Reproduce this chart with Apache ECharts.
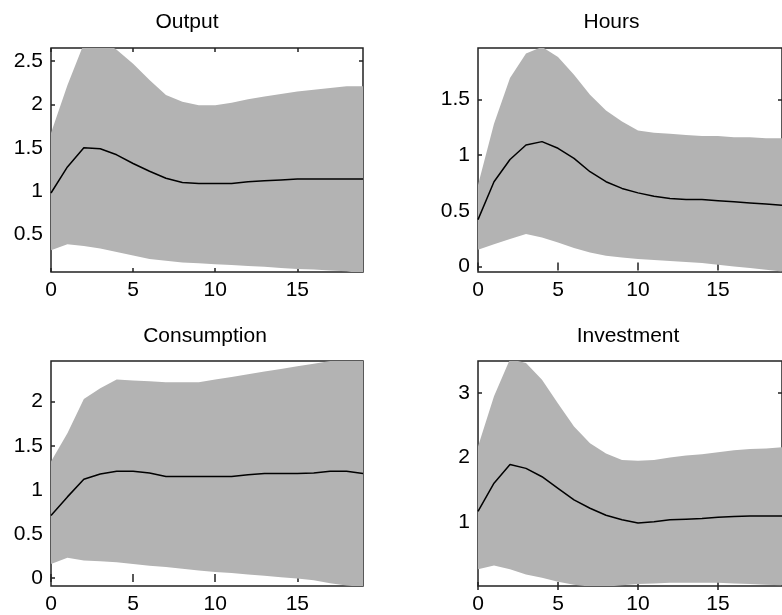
<!DOCTYPE html>
<html>
<head>
<meta charset="utf-8">
<script src="https://cdn.jsdelivr.net/npm/echarts@6/dist/echarts.min.js"></script>
<style>
html,body{margin:0;padding:0;background:#fff;}
#chart{width:782px;height:615px;}
</style>
</head>
<body>
<div id="chart"></div>
<script>
// ---- data ----
const horizons = ['0','1','2','3','4','5','6','7','8','9','10','11','12','13','14','15','16','17','18','19'];
const panelTitles = ['Output', 'Hours', 'Consumption', 'Investment'];

const outputMedian = [0.98,1.28,1.50,1.49,1.42,1.32,1.23,1.15,1.10,1.09,1.09,1.09,1.11,1.12,1.13,1.14,1.14,1.14,1.14,1.14];
const outputUpper  = [1.67,2.22,2.70,2.75,2.63,2.47,2.28,2.11,2.03,1.99,1.99,2.02,2.06,2.09,2.12,2.15,2.17,2.19,2.21,2.21];
const outputLower  = [0.32,0.39,0.37,0.34,0.30,0.26,0.22,0.20,0.18,0.17,0.16,0.15,0.14,0.13,0.115,0.105,0.098,0.088,0.078,0.05];

const hoursMedian = [0.42,0.76,0.96,1.09,1.12,1.06,0.97,0.85,0.76,0.70,0.66,0.63,0.61,0.60,0.60,0.59,0.58,0.57,0.56,0.55];
const hoursUpper  = [0.73,1.28,1.69,1.91,1.97,1.88,1.72,1.54,1.40,1.30,1.22,1.20,1.19,1.18,1.17,1.17,1.16,1.16,1.15,1.15];
const hoursLower  = [0.15,0.20,0.245,0.29,0.26,0.215,0.165,0.125,0.096,0.08,0.066,0.057,0.048,0.039,0.03,0.015,0.0,-0.015,-0.03,-0.045];

const consMedian = [0.71,0.92,1.12,1.18,1.21,1.21,1.19,1.15,1.15,1.15,1.15,1.15,1.17,1.185,1.185,1.185,1.19,1.21,1.21,1.185];
const consUpper  = [1.32,1.64,2.03,2.15,2.25,2.24,2.23,2.22,2.22,2.22,2.25,2.28,2.31,2.34,2.37,2.40,2.43,2.46,2.48,2.50];
const consLower  = [0.16,0.23,0.20,0.19,0.18,0.16,0.14,0.125,0.106,0.087,0.068,0.057,0.04,0.027,0.01,-0.004,-0.025,-0.06,-0.085,-0.10];

const invMedian = [1.16,1.60,1.89,1.83,1.70,1.52,1.34,1.21,1.10,1.03,0.98,1.00,1.03,1.04,1.05,1.07,1.08,1.09,1.09,1.09];
const invUpper  = [2.17,2.95,3.53,3.47,3.21,2.84,2.48,2.22,2.06,1.96,1.95,1.96,2.00,2.03,2.05,2.08,2.11,2.13,2.14,2.16];
const invLower  = [0.26,0.32,0.26,0.18,0.13,0.065,0.02,-0.01,-0.01,0.01,0.03,0.04,0.05,0.05,0.05,0.05,0.04,0.03,0.02,0.01];

const yRanges = [[0.07, 2.65], [-0.05, 1.96], [-0.09, 2.46], [0.0, 3.5]];
const yTickLabels = [[0.5,1,1.5,2,2.5], [0,0.5,1,1.5], [0,0.5,1,1.5,2], [1,2,3]];

const medians = [outputMedian, hoursMedian, consMedian, invMedian];
const uppers = [outputUpper, hoursUpper, consUpper, invUpper];
const lowers = [outputLower, hoursLower, consLower, invLower];

// ---- layout ----
const gridBoxes = [
  {left: 51, top: 48, width: 312, height: 224},
  {left: 478, top: 48, width: 310, height: 224},
  {left: 51, top: 361, width: 312, height: 225},
  {left: 478, top: 361, width: 310, height: 225}
];
const titlePos = [[187, 11.5], [611.5, 11.5], [205, 325.5], [628, 325.5]];

const FONT = 'Liberation Sans, Arial, sans-serif';
const FS = 21;
const BAND = '#b3b3b3';
const AX = '#222';

const option = {
  animation: false,
  backgroundColor: '#fff',
  title: [], grid: [], xAxis: [], yAxis: [], series: []
};

for (let i = 0; i < 4; i++) {
  option.title.push({
    text: panelTitles[i], left: titlePos[i][0], top: titlePos[i][1],
    textAlign: 'center', textVerticalAlign: 'top', padding: 0,
    textStyle: {fontFamily: FONT, fontSize: FS, fontWeight: 'normal', color: '#000'}
  });
  option.grid.push(Object.assign({
    show: true, borderColor: AX, borderWidth: 1.5, backgroundColor: 'rgba(0,0,0,0)', containLabel: false
  }, gridBoxes[i]));

  const xBase = {
    type: 'category', data: horizons, boundaryGap: false, gridIndex: i,
    axisLine: {show: false}, splitLine: {show: false}
  };
  option.xAxis.push(Object.assign({}, xBase, {
    position: 'bottom',
    axisTick: {show: true, inside: true, length: 4, interval: 4, lineStyle: {color: AX, width: 1.5}},
    axisLabel: {show: true, interval: 4, margin: 8, color: '#000', fontFamily: FONT, fontSize: FS}
  }));
  option.xAxis.push(Object.assign({}, xBase, {
    position: 'top',
    axisTick: {show: true, inside: true, length: 4, interval: 4, lineStyle: {color: AX, width: 1.5}},
    axisLabel: {show: false}
  }));

  const yBase = {
    type: 'value', gridIndex: i, min: yRanges[i][0], max: yRanges[i][1],
    axisLine: {show: false}, splitLine: {show: false}
  };
  option.yAxis.push(Object.assign({}, yBase, {
    position: 'left',
    axisTick: {show: true, inside: true, length: 4, customValues: yTickLabels[i], lineStyle: {color: AX, width: 1.5}},
    axisLabel: {show: true, margin: 8, customValues: yTickLabels[i], color: '#000', fontFamily: FONT, fontSize: FS}
  }));
  option.yAxis.push(Object.assign({}, yBase, {
    position: 'right',
    axisTick: {show: true, inside: true, length: 4, customValues: yTickLabels[i], lineStyle: {color: AX, width: 1.5}},
    axisLabel: {show: false}
  }));

  const diff = uppers[i].map((u, k) => +(u - lowers[i][k]).toFixed(4));
  option.series.push({
    type: 'line', xAxisIndex: 2 * i, yAxisIndex: 2 * i, stack: 'band' + i, stackStrategy: 'all',
    data: lowers[i], showSymbol: false, symbol: 'none', lineStyle: {width: 0, opacity: 0}, clip: true, z: 2
  });
  option.series.push({
    type: 'line', xAxisIndex: 2 * i, yAxisIndex: 2 * i, stack: 'band' + i, stackStrategy: 'all',
    data: diff, showSymbol: false, symbol: 'none', lineStyle: {width: 0, opacity: 0},
    areaStyle: {color: BAND, opacity: 1}, clip: true, z: 2
  });
  option.series.push({
    type: 'line', xAxisIndex: 2 * i, yAxisIndex: 2 * i,
    data: medians[i], showSymbol: false, symbol: 'none',
    lineStyle: {color: '#000', width: 1.5}, clip: true, z: 3
  });
}

const chart = echarts.init(document.getElementById('chart'), null, {renderer: 'canvas'});
chart.setOption(option);
</script>
</body>
</html>
